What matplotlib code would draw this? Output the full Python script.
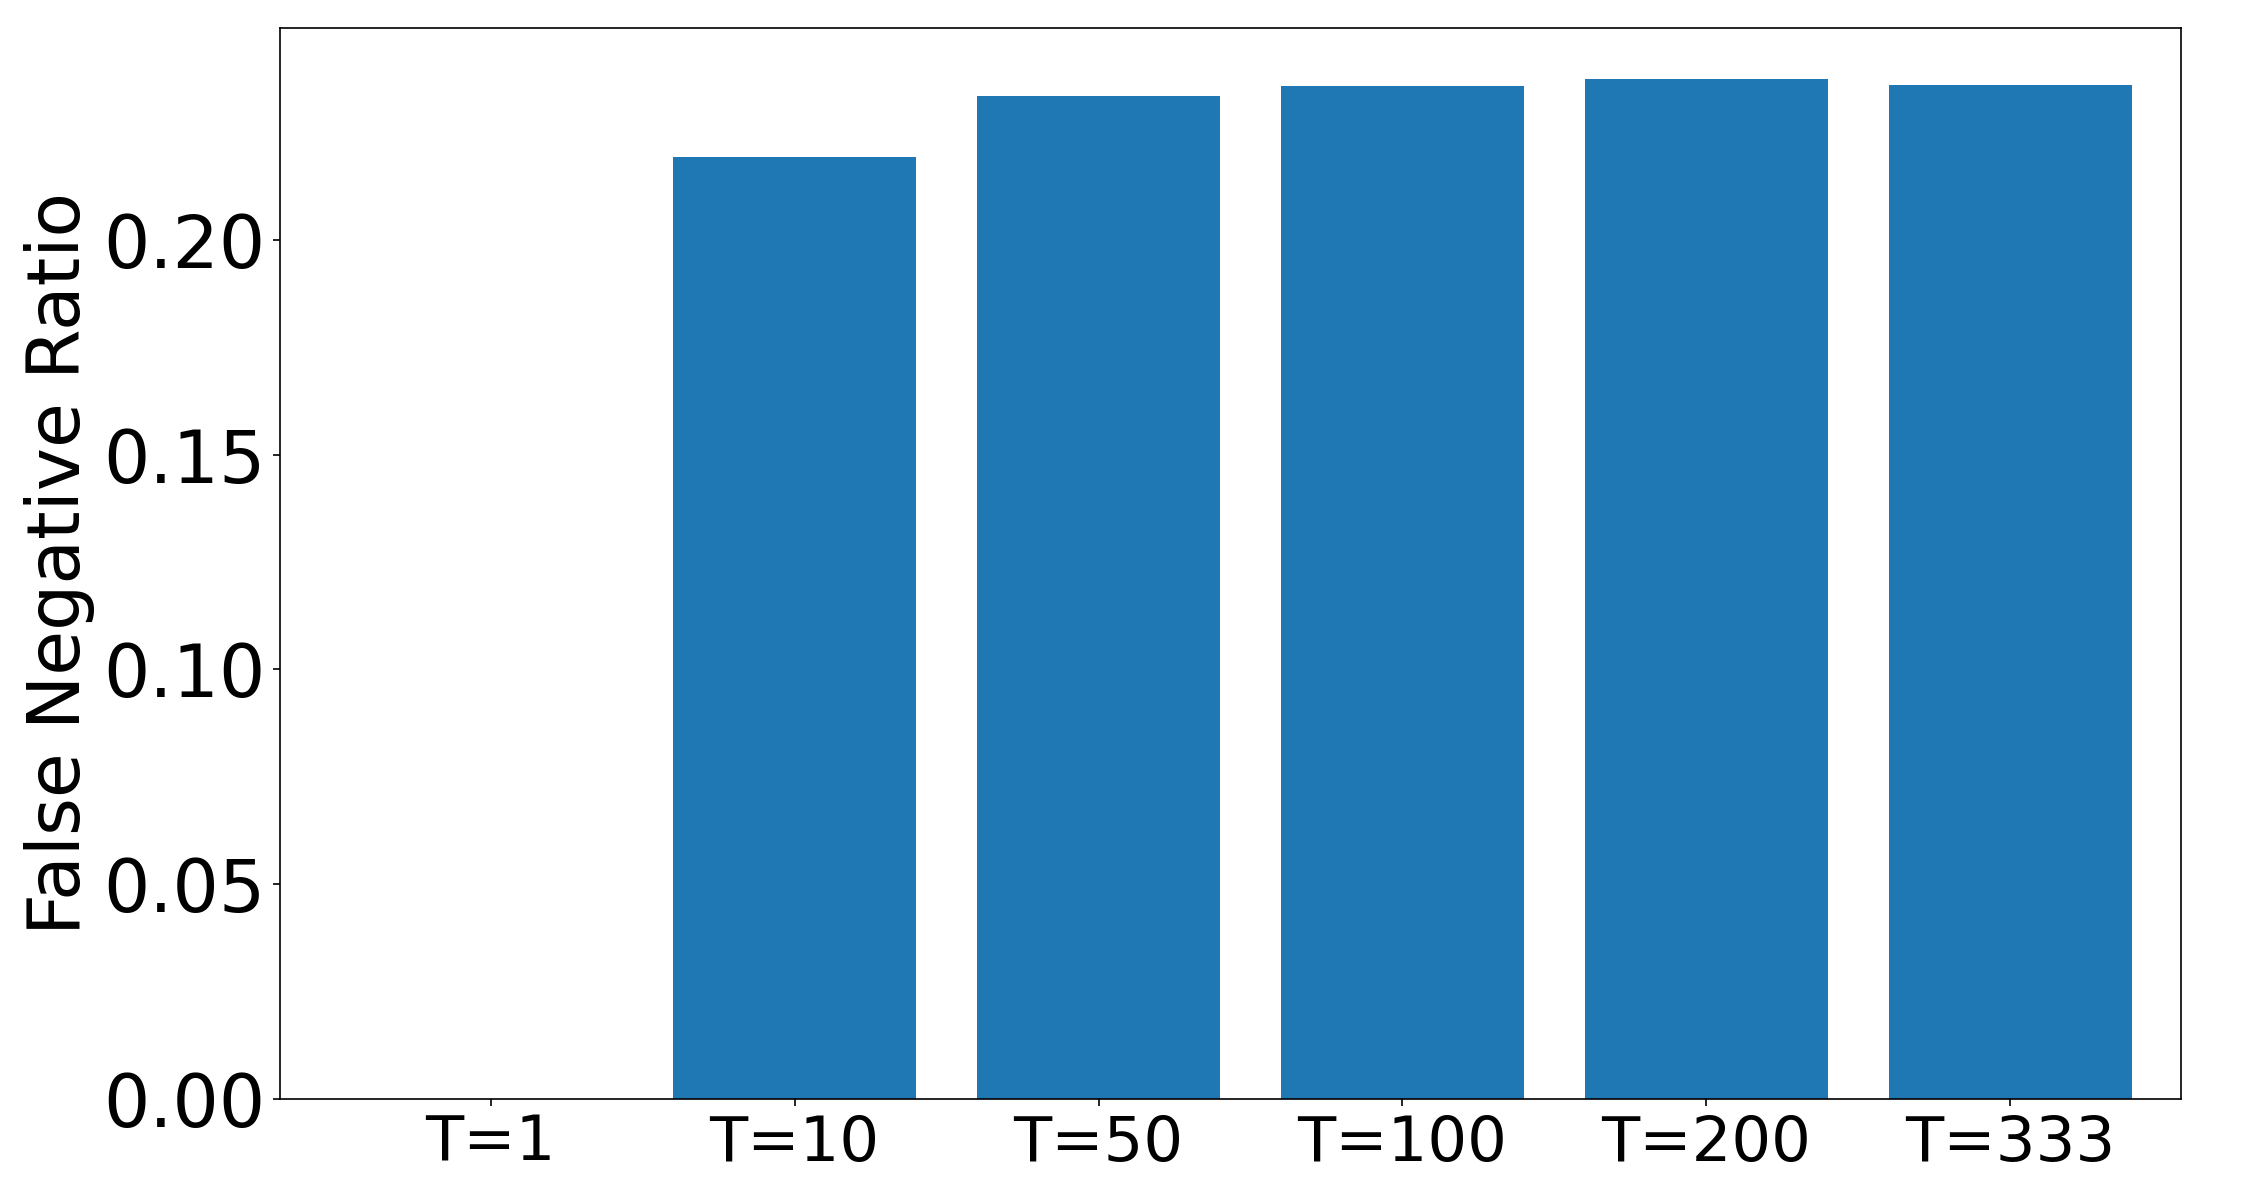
import matplotlib
matplotlib.use('Agg')
from matplotlib import pyplot as plt

# false negative ratio per T
labels = ['T=1', 'T=10', 'T=50', 'T=100', 'T=200', 'T=333']
ratios = [0.0, 0.2193, 0.2334, 0.2357, 0.2375, 0.2361]

fig, ax = plt.subplots(figsize=(15, 8), dpi=150)
ax.bar(labels, ratios, color='#1f77b4')
ax.set_xlim(-0.694, 5.562)
ax.set_ylabel('False Negative Ratio', fontsize=35)
ax.tick_params(axis='y', labelsize=35)
ax.tick_params(axis='x', labelsize=30)
plt.subplots_adjust(left=0.1244, right=0.9693, top=0.977, bottom=0.0842)
plt.savefig('out.png')
